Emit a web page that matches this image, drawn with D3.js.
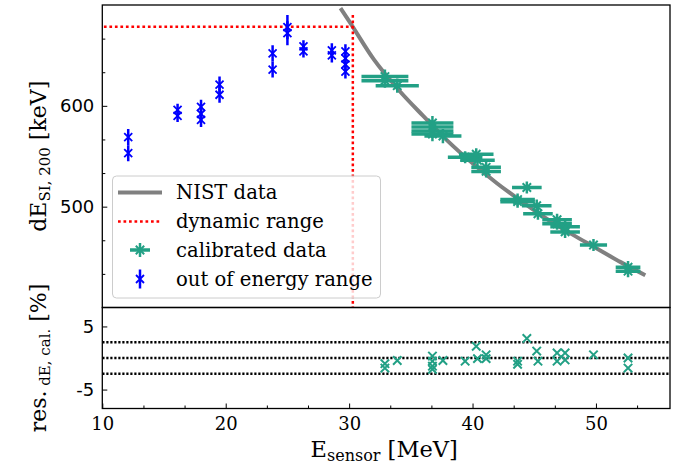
<!DOCTYPE html>
<html>
<head>
<meta charset="utf-8">
<script src="https://cdn.jsdelivr.net/npm/d3@7"></script>
<style>
body { margin: 0; background: #fff; }
svg text { font-family: "DejaVu Serif", serif; fill: #000; }
</style>
</head>
<body>
<div id="chart"></div>
<script>
// NIST reference curve
const nistE = [29.3, 30, 32, 34, 36, 38, 40, 42, 44, 46, 48, 50, 52, 54];
const nistV = [697, 684, 646, 616, 590, 565, 543, 523, 505, 488, 473, 459, 445, 432];

// points outside the calibrated energy range
const outE = [12.1, 12.1, 16.1, 16.1, 18.0, 18.0, 18.0, 19.5, 19.5, 23.8, 23.8, 25.0, 25.0, 26.3, 26.3, 28.6, 28.6, 29.7, 29.7, 29.7, 29.7];
const outV = [569, 553, 596, 590, 599, 592, 586, 621, 611, 652, 636, 678, 672, 659, 654, 655, 650, 654, 647, 641, 634];
const outErr = [8, 8, 6, 6, 7, 7, 7, 8, 8, 8, 8, 12, 12, 6, 6, 7, 7, 7, 7, 7, 7];

// calibrated data
const calE = [32.9, 32.9, 33.9, 36.75, 36.75, 36.75, 36.75, 37.6, 39.4, 40.3, 40.4, 41.1, 41.1, 43.65, 43.65, 44.4, 45.2, 45.3, 46.85, 46.85, 47.5, 47.5, 49.8, 52.6, 52.6];
const calV = [629, 625, 620, 583, 579, 575, 572, 570, 549, 552, 546, 539, 535, 507, 505, 519, 501, 493, 487, 483, 480, 475, 462, 440, 436];
const calXErr = [1.9, 1.9, 1.75, 1.7, 1.7, 1.7, 1.7, 1.5, 1.4, 1.4, 1.4, 1.2, 1.2, 1.4, 1.4, 1.2, 1.2, 1.2, 1.2, 1.2, 1.2, 1.2, 1.1, 1.0, 1.0];
const calYErr = [7, 7, 7, 7, 7, 7, 7, 7, 6, 6, 6, 6, 6, 6, 6, 6, 6, 6, 6, 6, 6, 6, 6, 6, 6];

// residuals in percent
const resV = [-0.9, -1.6, -0.4, 0.3, -0.5, -1.3, -1.8, -0.4, -0.5, 1.85, -0.1, 0.5, -0.1, -0.5, -1.0, 3.1, 1.1, -0.5, 0.8, -0.5, 0.8, -0.3, 0.5, 0.0, -1.6];

// dynamic range limits
const dynE = 30.3;
const dynV = 678.5;
const dynTop = 690;

const legendLabels = ["NIST data", "dynamic range", "calibrated data", "out of energy range"];

const W = 674, H = 466;
const left = 102.3, right = 670;
const top1 = 5, mid = 307.5, bottom2 = 408.5;

const green = "#22a085";
const blue = "#0000ff";

const svg = d3.select('#chart').append('svg')
  .attr('width', W).attr('height', H);

const x = d3.scaleLinear().domain([10, 56]).range([left, right]);
const y = d3.scaleLinear().domain([400, 700]).range([mid, top1]);
const yr = d3.scaleLinear().domain([-8, 8]).range([bottom2, mid]);

svg.append('clipPath').attr('id', 'clipTop')
  .append('rect').attr('x', left).attr('y', top1).attr('width', right - left).attr('height', mid - top1);
svg.append('clipPath').attr('id', 'clipBot')
  .append('rect').attr('x', left).attr('y', mid).attr('width', right - left).attr('height', bottom2 - mid);

const gTop = svg.append('g').attr('clip-path', 'url(#clipTop)');
const gBot = svg.append('g').attr('clip-path', 'url(#clipBot)');

// x-shaped marker
function xMark(g, cx, cy, r, color, w) {
  g.append('path')
    .attr('d', `M${cx - r},${cy - r}L${cx + r},${cy + r}M${cx - r},${cy + r}L${cx + r},${cy - r}`)
    .attr('stroke', color).attr('stroke-width', w).attr('fill', 'none');
}

// NIST line
gTop.append('path')
  .datum(nistE.map((e, i) => [e, nistV[i]]))
  .attr('d', d3.line().x(d => x(d[0])).y(d => y(d[1])).curve(d3.curveMonotoneX))
  .attr('fill', 'none').attr('stroke', '#808080').attr('stroke-width', 4);

// dynamic range lines
gTop.append('line')
  .attr('x1', x(10)).attr('x2', x(dynE)).attr('y1', y(dynV)).attr('y2', y(dynV))
  .attr('stroke', 'red').attr('stroke-width', 2.5).attr('stroke-dasharray', '2.7,2.8').attr('stroke-dashoffset', -1.6);
gTop.append('line')
  .attr('x1', x(dynE)).attr('x2', x(dynE)).attr('y1', y(dynTop)).attr('y2', y(400))
  .attr('stroke', 'red').attr('stroke-width', 2.5).attr('stroke-dasharray', '2.7,2.8');

// out of range points
outE.forEach((e, i) => {
  gTop.append('line')
    .attr('x1', x(e)).attr('x2', x(e))
    .attr('y1', y(outV[i] - outErr[i])).attr('y2', y(outV[i] + outErr[i]))
    .attr('stroke', blue).attr('stroke-width', 2.5);
});
outE.forEach((e, i) => xMark(gTop, x(e), y(outV[i]), 4, blue, 1.8));

// calibrated points
calE.forEach((e, i) => {
  gTop.append('line')
    .attr('x1', x(e - calXErr[i])).attr('x2', x(e + calXErr[i]))
    .attr('y1', y(calV[i])).attr('y2', y(calV[i]))
    .attr('stroke', green).attr('stroke-width', 3.5);
  gTop.append('line')
    .attr('x1', x(e)).attr('x2', x(e))
    .attr('y1', y(calV[i] - calYErr[i])).attr('y2', y(calV[i] + calYErr[i]))
    .attr('stroke', green).attr('stroke-width', 2.5);
});
calE.forEach((e, i) => xMark(gTop, x(e), y(calV[i]), 4.2, green, 2));

// residual panel
[-2.5, 0, 2.5].forEach(v => {
  gBot.append('line')
    .attr('x1', x(10)).attr('x2', x(56)).attr('y1', yr(v)).attr('y2', yr(v))
    .attr('stroke', '#000').attr('stroke-width', 2.4).attr('stroke-dasharray', '2.2,1.8');
});
calE.forEach((e, i) => xMark(gBot, x(e), yr(resV[i]), 4.2, green, 2));

// frames
svg.append('rect').attr('x', left).attr('y', top1).attr('width', right - left).attr('height', mid - top1)
  .attr('fill', 'none').attr('stroke', '#000').attr('stroke-width', 1.3);
svg.append('rect').attr('x', left).attr('y', mid).attr('width', right - left).attr('height', bottom2 - mid)
  .attr('fill', 'none').attr('stroke', '#000').attr('stroke-width', 1.3);

// axes with inward ticks
function styleAxis(g) {
  g.select('.domain').remove();
  g.selectAll('.tick line').attr('stroke', '#000').attr('stroke-width', 1);
}

svg.append('g').attr('transform', `translate(${left},0)`)
  .call(d3.axisLeft(y).tickValues([500, 600]).tickSize(-5).tickPadding(8))
  .call(styleAxis)
  .selectAll('text').style('font-family', '"DejaVu Sans", sans-serif').attr('font-size', 18);
svg.append('g').attr('transform', `translate(${left},0)`)
  .call(d3.axisLeft(y).tickValues(d3.range(1, 9).map(k => 400 + k * 100 / 3).filter(v => Math.abs(v - 500) > 1 && Math.abs(v - 600) > 1)).tickSize(-3).tickFormat(''))
  .call(styleAxis);

svg.append('g').attr('transform', `translate(${left},0)`)
  .call(d3.axisLeft(yr).tickValues([-5, 5]).tickSize(-5).tickPadding(8).tickFormat(d => d < 0 ? '-' + Math.abs(d) : d))
  .call(styleAxis)
  .selectAll('text').style('font-family', '"DejaVu Sans", sans-serif').attr('font-size', 18);

svg.append('g').attr('transform', `translate(0,${bottom2})`)
  .call(d3.axisBottom(x).tickValues([10, 20, 30, 40, 50]).tickSize(-5).tickFormat(d3.format('d')))
  .call(styleAxis)
  .selectAll('text').attr('font-size', 18).attr('y', 21.5).attr('dy', 0);
svg.append('g').attr('transform', `translate(0,${bottom2})`)
  .call(d3.axisBottom(x).tickValues(d3.range(0, 14).map(k => 10 + k * 10 / 3).filter(v => Math.abs(v / 10 - Math.round(v / 10)) > 0.01 && v < 56)).tickSize(-3).tickFormat(''))
  .call(styleAxis);

// axis labels
const xl = svg.append('text').attr('x', (left + right) / 2 - 2).attr('y', 457)
  .attr('text-anchor', 'middle').attr('font-size', 22.5);
xl.append('tspan').text('E');
xl.append('tspan').attr('font-size', 16).attr('dy', 4).text('sensor');
xl.append('tspan').attr('dy', -4).text(' [MeV]');

const yl = svg.append('text').attr('transform', `translate(46,${(top1 + mid) / 2}) rotate(-90)`)
  .attr('text-anchor', 'middle').attr('font-size', 22);
yl.append('tspan').text('dE');
yl.append('tspan').attr('font-size', 15).attr('dy', 4).text('SI, 200');
yl.append('tspan').attr('dy', -4).text(' [keV]');

const rl = svg.append('text').attr('transform', `translate(46,${(mid + bottom2) / 2}) rotate(-90)`)
  .attr('text-anchor', 'middle').attr('font-size', 22);
rl.append('tspan').text('res.');
rl.append('tspan').attr('font-size', 15).attr('dy', 4).text(' dE, cal.');
rl.append('tspan').attr('dy', -4).text(' [%]');

// legend
const lg = svg.append('g');
lg.append('rect').attr('x', 112.5).attr('y', 176).attr('width', 268).attr('height', 122).attr('rx', 4)
  .attr('fill', '#fff').attr('fill-opacity', 0.8).attr('stroke', '#cccccc').attr('stroke-width', 1);
const rowY = [192.5, 221.5, 250, 279];
lg.append('line').attr('x1', 118).attr('x2', 162).attr('y1', rowY[0]).attr('y2', rowY[0])
  .attr('stroke', '#808080').attr('stroke-width', 4);
lg.append('line').attr('x1', 118).attr('x2', 162).attr('y1', rowY[1]).attr('y2', rowY[1])
  .attr('stroke', 'red').attr('stroke-width', 2.5).attr('stroke-dasharray', '2.7,2.8');
lg.append('line').attr('x1', 130).attr('x2', 150).attr('y1', rowY[2]).attr('y2', rowY[2])
  .attr('stroke', green).attr('stroke-width', 3.5);
lg.append('line').attr('x1', 140).attr('x2', 140).attr('y1', rowY[2] - 7).attr('y2', rowY[2] + 7)
  .attr('stroke', green).attr('stroke-width', 2.5);
xMark(lg, 140, rowY[2], 4.2, green, 2);
lg.append('line').attr('x1', 140).attr('x2', 140).attr('y1', rowY[3] - 9.5).attr('y2', rowY[3] + 9.5)
  .attr('stroke', blue).attr('stroke-width', 2.5);
xMark(lg, 140, rowY[3], 4, blue, 1.8);
legendLabels.forEach((t, i) => {
  lg.append('text').attr('x', 176).attr('y', rowY[i]).attr('dy', '0.35em')
    .attr('font-size', 19.6).text(t);
});
</script>
</body>
</html>
